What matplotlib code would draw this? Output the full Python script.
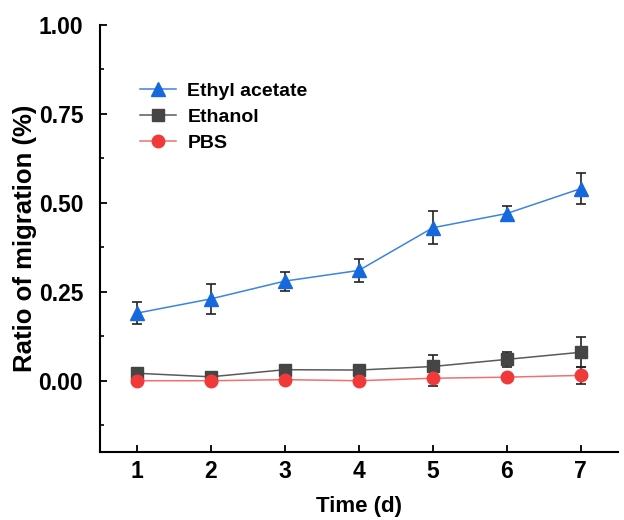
import matplotlib
matplotlib.use("Agg")
import matplotlib.pyplot as plt
from matplotlib.ticker import MultipleLocator

days = [1, 2, 3, 4, 5, 6, 7]
ethyl_acetate = [0.19, 0.23, 0.28, 0.31, 0.43, 0.47, 0.54]
ethyl_acetate_err = [0.03, 0.043, 0.027, 0.033, 0.046, 0.02, 0.043]
ethanol = [0.021, 0.011, 0.031, 0.03, 0.04, 0.06, 0.08]
ethanol_err = [0.01, 0.007, 0.01, 0.008, 0.033, 0.022, 0.042]
pbs = [0.0, 0.0, 0.003, 0.0, 0.007, 0.01, 0.015]
pbs_err = [0.01, 0.01, 0.012, 0.008, 0.023, 0.01, 0.024]

plt.rcParams['font.family'] = ['Liberation Sans', 'DejaVu Sans']
plt.rcParams['font.weight'] = 'bold'

fig = plt.figure(figsize=(6.24, 5.2), dpi=100)
ax = fig.add_axes([0.16, 0.131, 0.83, 0.821])

series = [
    ("Ethyl acetate", ethyl_acetate, ethyl_acetate_err, '^', '#1668dd', '#3b84e0', 10),
    ("Ethanol", ethanol, ethanol_err, 's', '#454545', '#5a5a5a', 8),
    ("PBS", pbs, pbs_err, 'o', '#f03a3a', '#f07070', 9),
]
for name, vals, errs, mk, mc, lc, ms in series:
    ax.errorbar(days, vals, yerr=errs, fmt='none', ecolor='#222222', elinewidth=1.2,
                capsize=3.5, capthick=1.2, zorder=2)
    ax.plot(days, vals, color=lc, lw=1.1, marker=mk, markersize=ms,
            markerfacecolor=mc, markeredgecolor=mc, label=name, zorder=3)

ax.set_xlim(0.5, 7.5)
ax.set_ylim(-0.2, 1.0)
ax.set_xticks(days)
ax.set_yticks([0.0, 0.25, 0.5, 0.75, 1.0])
ax.set_yticklabels(['0.00', '0.25', '0.50', '0.75', '1.00'])
ax.yaxis.set_minor_locator(MultipleLocator(0.125))
ax.tick_params(axis='both', which='major', direction='in', length=5, width=1.3,
               labelsize=16.5)
ax.tick_params(axis='x', which='major', pad=6)
ax.tick_params(axis='y', which='major', pad=12)
ax.tick_params(axis='y', which='minor', direction='in', length=3, width=1.2)
for lab in ax.get_xticklabels() + ax.get_yticklabels():
    lab.set_fontweight('bold')
ax.spines['top'].set_visible(False)
ax.spines['right'].set_visible(False)
ax.spines['left'].set_linewidth(1.5)
ax.spines['bottom'].set_linewidth(1.5)

ax.set_xlabel('Time (d)', fontsize=16, fontweight='bold', labelpad=9)
ax.set_ylabel('Ratio of migration (%)', fontsize=18.5, fontweight='bold', labelpad=1)

leg = ax.legend(loc='upper left', bbox_to_anchor=(0.077, 0.865), frameon=False,
                prop={'size': 14, 'weight': 'bold'}, handlelength=1.85,
                labelspacing=0.42, handletextpad=0.6, borderpad=0, borderaxespad=0)

fig.savefig('out.png', dpi=100)
